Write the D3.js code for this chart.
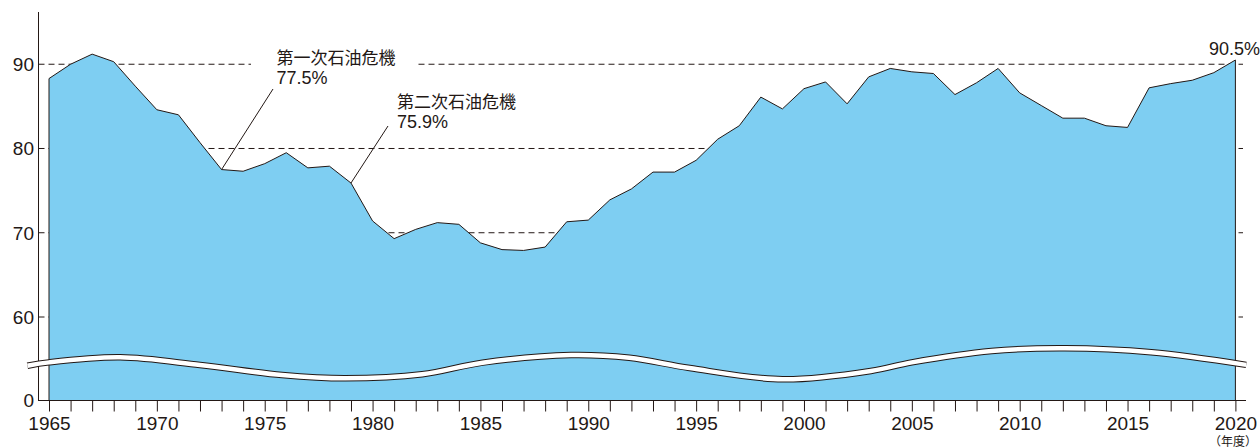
<!DOCTYPE html>
<html>
<head>
<meta charset="utf-8">
<script src="https://cdn.jsdelivr.net/npm/d3@7"></script>
<style>
  body { margin: 0; background: #fff; }
  text { font-family: "Liberation Sans", Helvetica, Arial, "Noto Sans CJK JP", sans-serif; fill: #231815; }
</style>
</head>
<body>
<div id="chart"></div>
<script>
// 原油の中東依存度（年度, %）
const years = d3.range(1965, 2021);
const shares = [
  88.3, 90.0, 91.2, 90.3, 87.4, 84.6, 84.0, 80.7, 77.5, 77.3,
  78.2, 79.5, 77.7, 77.9, 75.9, 71.4, 69.3, 70.4, 71.2, 71.0,
  68.8, 68.0, 67.9, 68.3, 71.3, 71.5, 73.9, 75.2, 77.2, 77.2,
  78.6, 81.1, 82.7, 86.1, 84.7, 87.1, 87.9, 85.3, 88.5, 89.5,
  89.1, 88.9, 86.4, 87.8, 89.5, 86.6, 85.1, 83.6, 83.6, 82.7,
  82.5, 87.2, 87.7, 88.1, 89.0, 90.5
];
const yTicks = [0, 60, 70, 80, 90];
const gridValues = [60, 70, 80, 90];
const labelYears = d3.range(1965, 2021, 5);
const crises = [
  { year: 1973, name: "第一次石油危機", value: 77.5 },
  { year: 1979, name: "第二次石油危機", value: 75.9 }
];
// axis break (wavy band), [year, level on the compressed part of the scale]
const breakWave = [
  [1964.0, 25.0], [1965.0, 27.4], [1968.3, 31.0], [1972.0, 25.5], [1975.8, 18.3],
  [1978.7, 15.9], [1982.3, 18.8], [1985.1, 27.2], [1989.2, 32.7], [1991.9, 30.7],
  [1994.7, 23.3], [1999.0, 15.2], [2003.1, 21.2], [2005.0, 27.4], [2008.7, 35.6],
  [2012.1, 37.5], [2016.1, 34.6], [2020.5, 25.6]
];

const data = years.map((yr, i) => ({ year: yr, value: shares[i] }));

const W = 1260, H = 448;
const svg = d3.select("#chart").append("svg")
  .attr("width", W)
  .attr("height", H);

const x = d3.scaleLinear().domain([1965, 2020]).range([49, 1235.4]);
// 0-60 compressed (broken axis)
const y = d3.scaleLinear().domain([0, 60, 96.2]).range([400.5, 317, 12]);

const axisX = 38.5;

// Grid lines (dashed), drawn under the area
svg.append("g")
  .selectAll("line")
  .data(gridValues)
  .join("line")
  .attr("x1", axisX)
  .attr("x2", 1243)
  .attr("y1", (d) => y(d))
  .attr("y2", (d) => y(d))
  .attr("stroke", "#231815")
  .attr("stroke-width", 1)
  .attr("stroke-dasharray", "6,4");

// Area
const area = d3.area()
  .x((d) => x(d.year))
  .y0(y(0))
  .y1((d) => y(d.value));

svg.append("path")
  .datum(data)
  .attr("d", area)
  .attr("fill", "#7ecef2")
  .attr("stroke", "#231815")
  .attr("stroke-width", 1)
  .attr("stroke-linejoin", "round");

// Left axis line
svg.append("line")
  .attr("x1", axisX).attr("x2", axisX)
  .attr("y1", y(96.2)).attr("y2", y(0))
  .attr("stroke", "#231815");

// Break band
const wave = d3.line()
  .x((d) => x(d[0]))
  .y((d) => y(d[1]))
  .curve(d3.curveCatmullRom.alpha(0.5));

svg.append("path")
  .attr("d", wave(breakWave))
  .attr("fill", "none")
  .attr("stroke", "#231815")
  .attr("stroke-width", 6.5);
svg.append("path")
  .attr("d", wave(breakWave))
  .attr("fill", "none")
  .attr("stroke", "#fff")
  .attr("stroke-width", 4.5);

// Y labels
svg.append("g")
  .selectAll("text")
  .data(yTicks)
  .join("text")
  .attr("x", 34)
  .attr("y", (d) => y(d))
  .attr("dy", "0.36em")
  .attr("text-anchor", "end")
  .style("font-size", "19px")
  .text((d) => d);

// X axis
const xAxis = d3.axisBottom(x)
  .tickValues(years)
  .tickSize(11)
  .tickSizeOuter(0)
  .tickFormat((d) => (labelYears.includes(d) ? d : ""));

const gx = svg.append("g")
  .attr("transform", `translate(0,${y(0)})`)
  .call(xAxis);
gx.select(".domain").remove();
gx.selectAll(".tick line").attr("stroke", "#231815");
gx.selectAll(".tick text")
  .attr("y", 16)
  .attr("dy", "0.71em")
  .style("font-size", "19px")
  .style("font-family", null);

svg.append("line")
  .attr("x1", axisX - 0.5).attr("x2", 1246)
  .attr("y1", y(0)).attr("y2", y(0))
  .attr("stroke", "#231815");

svg.append("text")
  .attr("x", 1257)
  .attr("y", 446)
  .attr("text-anchor", "end")
  .style("font-size", "12px")
  .text("（年度）");

// Annotations
const offsets = [
  { dx: 55, l1: 64, l2: 84, lx: 273, ly: 89, gap: [251, 415] },
  { dx: 46, l1: 108, l2: 128, lx: 388, ly: 126 }
];

crises.forEach((c, i) => {
  const o = offsets[i];
  const px = x(c.year), py = y(c.value);
  if (o.gap) {
    svg.append("rect")
      .attr("x", o.gap[0]).attr("width", o.gap[1] - o.gap[0])
      .attr("y", y(90) - 3).attr("height", 6)
      .attr("fill", "#fff");
  }
  svg.append("line")
    .attr("x1", px).attr("y1", py)
    .attr("x2", o.lx).attr("y2", o.ly)
    .attr("stroke", "#231815");
  svg.append("text")
    .attr("x", px + o.dx)
    .attr("y", o.l1)
    .style("font-size", "17px")
    .style("font-family", "'Noto Sans CJK JP', sans-serif")
    .text(c.name);
  svg.append("text")
    .attr("x", px + o.dx)
    .attr("y", o.l2)
    .style("font-size", "18px")
    .text(`${c.value}%`);
});

svg.append("text")
  .attr("x", 1260)
  .attr("y", 55)
  .attr("text-anchor", "end")
  .style("font-size", "18px")
  .text(`${shares[shares.length - 1]}%`);
</script>
</body>
</html>
